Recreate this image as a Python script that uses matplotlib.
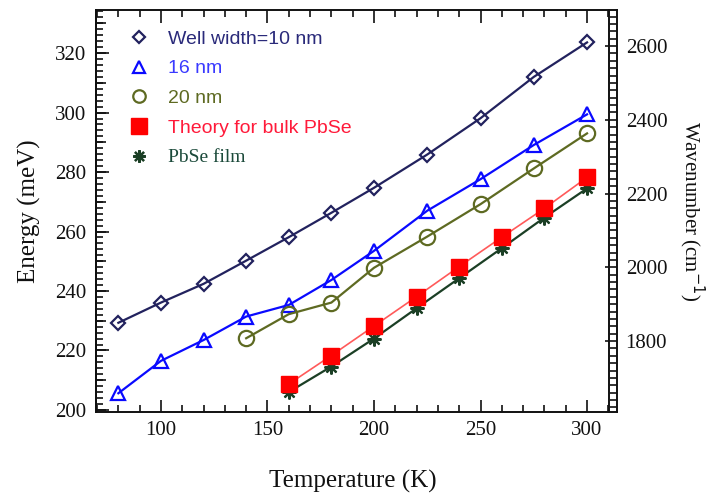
import matplotlib
matplotlib.use("Agg")
import matplotlib.pyplot as plt
from matplotlib.lines import Line2D
from matplotlib.ticker import MultipleLocator, FixedLocator

# Temperatures (K)
temp_qw = [80, 100, 120, 140, 160, 180, 200, 225, 250, 275, 300]
temp_20 = [140, 160, 180, 200, 225, 250, 275, 300]
temp_bulk = [160, 180, 200, 220, 240, 260, 280, 300]

# Transition energies (meV)
e_10nm = [229.3, 236.1, 242.4, 250.2, 258.1, 266.3, 274.7, 285.9, 298.1, 312.0, 323.6]
e_16nm = [205.6, 216.5, 223.5, 231.4, 235.3, 243.7, 253.5, 267.0, 277.6, 289.1, 299.4]
e_20nm = [224.1, 232.2, 236.1, 247.8, 258.3, 269.2, 281.2, 293.0]
e_theory = [208.7, 218.3, 228.2, 238.1, 248.2, 258.1, 267.8, 278.2]
e_film = [206.0, 214.6, 224.0, 234.2, 244.3, 254.4, 264.7, 274.5]

labels = ["Well width=10 nm", "16 nm", "20 nm", "Theory for bulk PbSe", "PbSe film"]
wavenumber_ticks = [1800, 2000, 2200, 2400, 2600]

MEV_TO_CM = 8.0655

serif = ["Liberation Serif", "DejaVu Serif"]
sans = ["Liberation Sans", "DejaVu Sans"]

c10 = "#22225e"
c16 = "#0a0aff"
c20 = "#5e6a22"
cth = "#ff0000"
cth_line = "#ff5a5a"
cfilm = "#1b3f25"

fig = plt.figure(figsize=(7.12, 4.98), dpi=100)
ax = fig.add_axes([0.1348, 0.1733, 0.7205, 0.8066])

ax.plot(temp_qw, e_10nm, color=c10, lw=1.6, marker="D", ms=7, mfc="none",
        mec=c10, mew=1.6, zorder=5)
ax.plot(temp_qw, e_16nm, color=c16, lw=1.6, marker="^", ms=10, mfc="none",
        mec=c16, mew=1.6, zorder=5)
ax.plot(temp_20, e_20nm, color=c20, lw=1.6, marker="o", ms=11, mfc="none",
        mec=c20, mew=1.6, zorder=5)
ax.plot(temp_bulk, e_film, color=cfilm, lw=1.6, marker=(8, 2, 0), ms=10,
        mec=cfilm, mew=1.6, zorder=5)
ax.plot(temp_bulk, e_theory, color=cth_line, lw=1.2, marker="s", ms=11,
        mfc=cth, mec=cth, zorder=6)

ax.set_xlim(69.5, 310.3)
ax.set_ylim(199.4, 334.5)

ax.xaxis.set_major_locator(MultipleLocator(50))
ax.xaxis.set_minor_locator(MultipleLocator(10))
ax.yaxis.set_major_locator(MultipleLocator(20))
ax.yaxis.set_minor_locator(MultipleLocator(2))

ax.tick_params(axis="x", which="both", direction="in", top=True, bottom=True,
               width=1.2, colors="#111111")
ax.tick_params(axis="y", which="both", direction="in", left=True, right=False,
               width=1.2, colors="#111111")
ax.tick_params(which="major", length=9)
ax.tick_params(which="minor", length=5)
ax.tick_params(axis="both", which="major", labelsize=15, pad=7)
for lab in ax.get_xticklabels() + ax.get_yticklabels():
    lab.set_family(serif)

for sp in ax.spines.values():
    sp.set_linewidth(1.4)
    sp.set_color("#111111")

# medium ticks every 10 meV on the energy axis
mid = ax.secondary_yaxis("left")
mid.yaxis.set_major_locator(MultipleLocator(10))
mid.tick_params(direction="in", length=7, width=1.2, labelleft=False, colors="#111111")
mid.spines["left"].set_linewidth(1.4)

# wavenumber axis
sec = ax.secondary_yaxis(1.0, functions=(lambda e: e * MEV_TO_CM,
                                          lambda w: w / MEV_TO_CM))
sec.spines["right"].set_position(("outward", 6))
sec.spines["right"].set_linewidth(1.4)
sec.spines["right"].set_color("#111111")
sec.yaxis.set_major_locator(FixedLocator(wavenumber_ticks))
sec.yaxis.set_minor_locator(MultipleLocator(20))
sec.tick_params(which="both", direction="in", width=1.2, colors="#111111")
sec.tick_params(which="major", length=9, labelsize=15, pad=6)
sec.tick_params(which="minor", length=5)
for lab in sec.get_yticklabels():
    lab.set_family(serif)
sec.set_ylabel("Wavenumber (cm$^{-1}$)", fontsize=15, family=serif,
               rotation=-90, labelpad=28, color="#111111")

# closing stubs between the frame and the offset wavenumber spine
off = 6 / 72 * fig.dpi / (0.7205 * fig.get_figwidth() * fig.dpi)
for yv in (0, 1):
    ax.add_line(Line2D([1, 1 + off], [yv, yv], transform=ax.transAxes,
                       color="#111111", lw=1.4, clip_on=False))

ax.set_xlabel("Temperature (K)", fontsize=18, family=serif, labelpad=21, color="#111111")
ax.set_ylabel("Energy (meV)", fontsize=18, family=serif, labelpad=10, color="#111111")

handles = [
    Line2D([], [], ls="none", marker="D", ms=6, mfc="none", mec=c10, mew=1.6),
    Line2D([], [], ls="none", marker="^", ms=8, mfc="none", mec=c16, mew=1.6),
    Line2D([], [], ls="none", marker="o", ms=9, mfc="none", mec=c20, mew=1.6),
    Line2D([], [], ls="none", marker="s", ms=11, mfc=cth, mec=cth),
    Line2D([], [], ls="none", marker=(8, 2, 0), ms=9, mec=cfilm, mew=1.6),
]
leg = ax.legend(handles, labels, loc="upper left", bbox_to_anchor=(0.064, 0.95),
                frameon=False, handlelength=1.0, handletextpad=1.0,
                labelspacing=0.62, borderpad=0, borderaxespad=0,
                prop={"family": sans, "size": 14})
text_colors = ["#2a2a7a", "#3a3aff", "#5e6a22", "#ff1a3a", "#1b4a3a"]
for t, col in zip(leg.get_texts(), text_colors):
    t.set_color(col)
leg.get_texts()[4].set_family(serif)

fig.savefig("out.png", dpi=100)
